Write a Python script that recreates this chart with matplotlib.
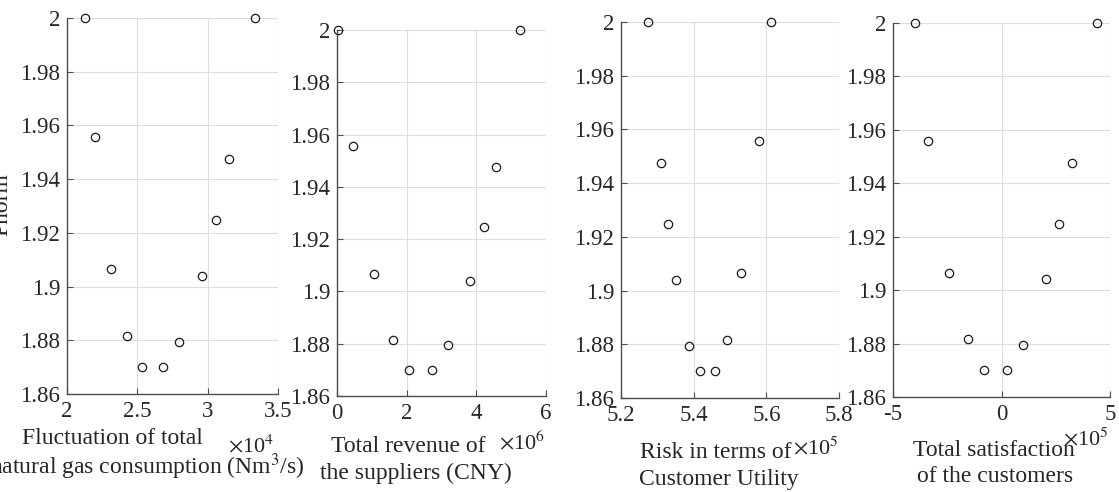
import matplotlib
matplotlib.use("Agg")
import matplotlib.pyplot as plt
import numpy as np

# common y values (same solutions in every panel)
yvals = [2.0, 1.9557, 1.9066, 1.8816, 1.870, 1.870, 1.8795, 1.904, 1.9248, 1.9475, 2.0]

# x values per panel, same order as yvals
gas_fluct = [2.128, 2.199, 2.313, 2.427, 2.533, 2.680, 2.796, 2.960, 3.060, 3.152, 3.337]   # x1e4
revenue = [0.03, 0.46, 1.06, 1.61, 2.07, 2.72, 3.19, 3.82, 4.22, 4.56, 5.25]               # x1e6
risk = [5.274, 5.580, 5.530, 5.492, 5.458, 5.417, 5.387, 5.351, 5.328, 5.311, 5.612]       # x1e5
satisf = [-4.00, -3.37, -2.40, -1.55, -0.81, 0.25, 1.01, 2.06, 2.66, 3.27, 4.39]           # x1e5

yticks = [1.86, 1.88, 1.9, 1.92, 1.94, 1.96, 1.98, 2.0]
ytick_labels = ['1.86', '1.88', '1.9', '1.92', '1.94', '1.96', '1.98', '2']

xticks1 = [2, 2.5, 3, 3.5]
xlabels1 = ['2', '2.5', '3', '3.5']
xticks2 = [0, 2, 4, 6]
xlabels2 = ['0', '2', '4', '6']
xticks3 = [5.2, 5.4, 5.6, 5.8]
xlabels3 = ['5.2', '5.4', '5.6', '5.8']
xticks4 = [-5, 0, 5]
xlabels4 = ['-5', '0', '5']

plt.rcParams['font.family'] = ['Liberation Serif', 'DejaVu Serif']
plt.rcParams['mathtext.fontset'] = 'stix'
txtc = '#262626'

fig = plt.figure(figsize=(11.19, 4.92), dpi=100)

W, H = 1119.0, 492.0
def box(l, r, t, b):
    return [l / W, 1 - b / H, (r - l) / W, (b - t) / H]

panels = [
    (box(67, 278, 18, 394), gas_fluct, xticks1, xlabels1, (2, 3.5)),
    (box(337, 546, 30, 396), revenue, xticks2, xlabels2, (0, 6)),
    (box(621, 839, 22, 398), risk, xticks3, xlabels3, (5.2, 5.8)),
    (box(893, 1110, 23, 397), satisf, xticks4, xlabels4, (-5, 5)),
]

axes = []
for pos, xs, xt, xl, lim in panels:
    ax = fig.add_axes(pos)
    ax.plot(xs, yvals, 'o', mfc='none', mec='#1a1a1a', ms=6, mew=0.9, clip_on=False, zorder=3)
    ax.set_xlim(*lim)
    ax.set_ylim(1.86, 2.0)
    ax.set_xticks(xt)
    ax.set_xticklabels(xl)
    ax.set_yticks(yticks)
    ax.set_yticklabels(ytick_labels)
    ax.grid(True, color='#dedede', lw=0.8)
    ax.set_axisbelow(True)
    for s in ['top', 'right']:
        ax.spines[s].set_visible(False)
    for s in ['left', 'bottom']:
        ax.spines[s].set_color('#4d4d4d')
        ax.spines[s].set_linewidth(1.0)
    ax.tick_params(direction='in', length=4, width=0.8, color='#4d4d4d',
                   labelsize=16.5, labelcolor=txtc, pad=5)
    axes.append(ax)

# edge grid lines at top/right like the original
for ax in axes:
    x0, x1 = ax.get_xlim()
    ax.axhline(2.0, color='#dedede', lw=0.8, zorder=0)
    ax.axvline(x1, color='#dedede', lw=0.8, zorder=0)

def ftext(x, y, s, ha='center', size=17):
    fig.text(x / W, 1 - y / H, s, ha=ha, va='center', fontsize=size, color=txtc)

# panel 1 labels
ftext(112, 438, 'Fluctuation of total')
ftext(305, 467, 'natural gas consumption (Nm$^3$/s)', ha='right')
ftext(251, 446, r'$\times$10$^4$', size=16)
fig.text(2 / W, 1 - 205 / H, 'Pnorm', rotation=90, ha='center', va='center',
         fontsize=17, color=txtc)

# panel 2 labels
ftext(408, 447, 'Total revenue of')
ftext(416, 473, 'the suppliers (CNY)')
ftext(522, 443, r'$\times$10$^6$', size=16)

# panel 3 labels
ftext(716, 453, 'Risk in terms of')
ftext(719, 480, 'Customer Utility')
ftext(816, 448, r'$\times$10$^5$', size=16)

# panel 4 labels
ftext(994, 450, 'Total satisfaction')
ftext(995, 477, 'of the customers')
ftext(1086, 439, r'$\times$10$^5$', size=16)

fig.savefig('out.png', dpi=100)
